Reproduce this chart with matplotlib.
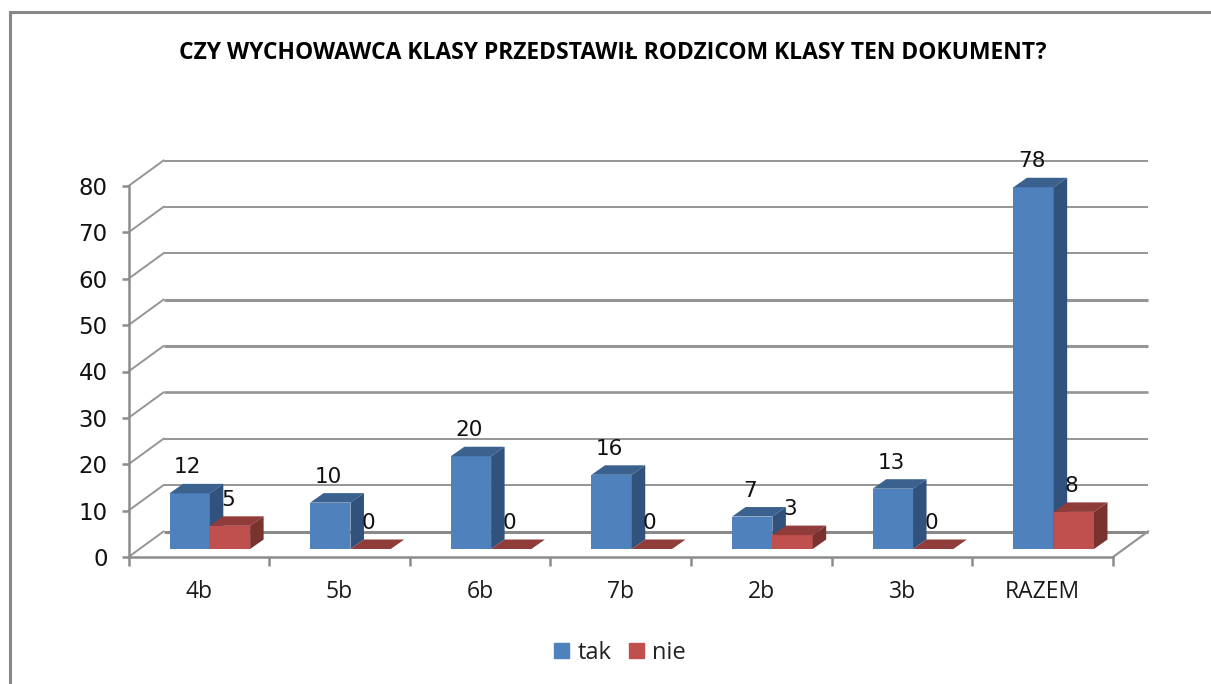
import matplotlib
matplotlib.use("Agg")
import matplotlib.pyplot as plt
from matplotlib.lines import Line2D
from matplotlib.patches import Rectangle

categories = ["4b", "5b", "6b", "7b", "2b", "3b", "RAZEM"]
tak = [12, 10, 20, 16, 7, 13, 78]
nie = [5, 0, 0, 0, 3, 0, 8]
yticks = [0, 10, 20, 30, 40, 50, 60, 70, 80]
title = "CZY WYCHOWAWCA KLASY PRZEDSTAWIŁ RODZICOM KLASY TEN DOKUMENT?"

W, H = 1211, 684
FONT = "Open Sans"
NUMFONT = "DejaVu Sans"
GRID = "#959595"
AXIS = "#8c8c8c"

fig = plt.figure(figsize=(W / 100, H / 100), dpi=100, facecolor="white")
L, R, B, T = 128.5, 1113, 557, 186
ax = fig.add_axes([L / W, 1 - B / H, (R - L) / W, (B - T) / H])
ax.set_xlim(0, 7)
ax.set_ylim(0, 80)
ax.patch.set_alpha(0)
for s in ax.spines.values():
    s.set_visible(False)
ax.spines["left"].set_visible(True)
ax.spines["bottom"].set_visible(True)
for k in ("left", "bottom"):
    ax.spines[k].set_color(AXIS)
    ax.spines[k].set_linewidth(1.8)

px = (R - L) / 7
py = (B - T) / 80
wall_x, wall_y = 35 / px, 25.5 / py
plane_x, plane_y = 11 / px, 8 / py
depth_x, depth_y = 13.5 / px, 9.5 / py
bw = 40.3 / px

# Back wall and floor
heavy = {0: 2.2, 30: 1.9, 40: 2.2, 50: 2.2}
for v in yticks:
    ax.plot([wall_x, 7 + wall_x], [v + wall_y] * 2, color=GRID if v else "#8a8a8a",
            lw=heavy.get(v, 1.4), clip_on=False, zorder=1, solid_capstyle="butt")
    ax.plot([0, wall_x], [v, v + wall_y], color=GRID, lw=1.4, clip_on=False, zorder=1)
ax.plot([7, 7 + wall_x], [0, wall_y], color=GRID, lw=1.6, clip_on=False, zorder=1)

ax.set_xticks(range(8))
ax.set_xticklabels([])
ax.set_xticks([i + 0.5 for i in range(7)], categories, minor=True)
ax.set_yticks(yticks)
ax.tick_params(axis="x", which="major", length=6.2, width=1.8, color=AXIS)
ax.tick_params(axis="x", which="minor", length=0, pad=16.5, labelsize=16.5, labelcolor="#1a1a1a")
ax.tick_params(axis="y", length=5, width=1.8, color=AXIS, pad=10, labelsize=16.5, labelcolor="#111111")
for t in ax.get_xticklabels(minor=True):
    t.set_fontfamily(FONT)
for t in ax.get_yticklabels():
    t.set_fontfamily(NUMFONT)


def bar3d(x0, v, front, top, side):
    px0, py0 = x0 + plane_x, plane_y
    x1 = px0 + bw
    ytop = v + py0
    ax.bar(px0, v, bw, bottom=py0, align="edge", color=front, clip_on=False, zorder=3)
    ax.fill([px0, x1, x1 + depth_x, px0 + depth_x], [ytop, ytop, ytop + depth_y, ytop + depth_y],
            color=top, lw=0, clip_on=False, zorder=3)
    ax.fill([x1, x1 + depth_x, x1 + depth_x, x1], [py0, py0 + depth_y, ytop + depth_y, ytop],
            color=side, lw=0, clip_on=False, zorder=3)


for i, (a, b) in enumerate(zip(tak, nie)):
    left = i + 0.5 - bw
    bar3d(left, a, "#4f81bd", "#3b618f", "#31527c")
    bar3d(i + 0.5, b, "#c0504d", "#8f3c3a", "#7a322f")
    ax.text(left + plane_x + bw / 2 - 2 / px, a + plane_y + 26 / py, str(a), ha="center", va="center",
            fontsize=15.5, family=NUMFONT, color="#111111", clip_on=False, zorder=4)
    ax.text(i + 0.5 + plane_x + bw / 2 - 2 / px, b + plane_y + 26 / py, str(b), ha="center", va="center",
            fontsize=15.5, family=NUMFONT, color="#111111", clip_on=False, zorder=4)

fig.text(612.5 / W, 1 - 53 / H, title, ha="center", va="center", fontsize=16.5,
         fontweight="bold", family=FONT, color="black")

handles = [Rectangle((0, 0), 1, 1, color="#4f81bd"), Rectangle((0, 0), 1, 1, color="#c0504d")]
fig.legend(handles, ["tak", "nie"], ncol=2, loc="center", bbox_to_anchor=(620 / W, 1 - 653 / H),
           frameon=False, prop={"family": FONT, "size": 17}, handlelength=0.62, handleheight=0.62,
           handletextpad=0.35, columnspacing=0.75, labelcolor="#222222")

fig.add_artist(Line2D([9.5 / W, 9.5 / W, 1], [0, 1 - 12 / H, 1 - 12 / H], color="#878787",
                      lw=2.2, solid_joinstyle="miter"))

fig.savefig("out.png", dpi=100)
